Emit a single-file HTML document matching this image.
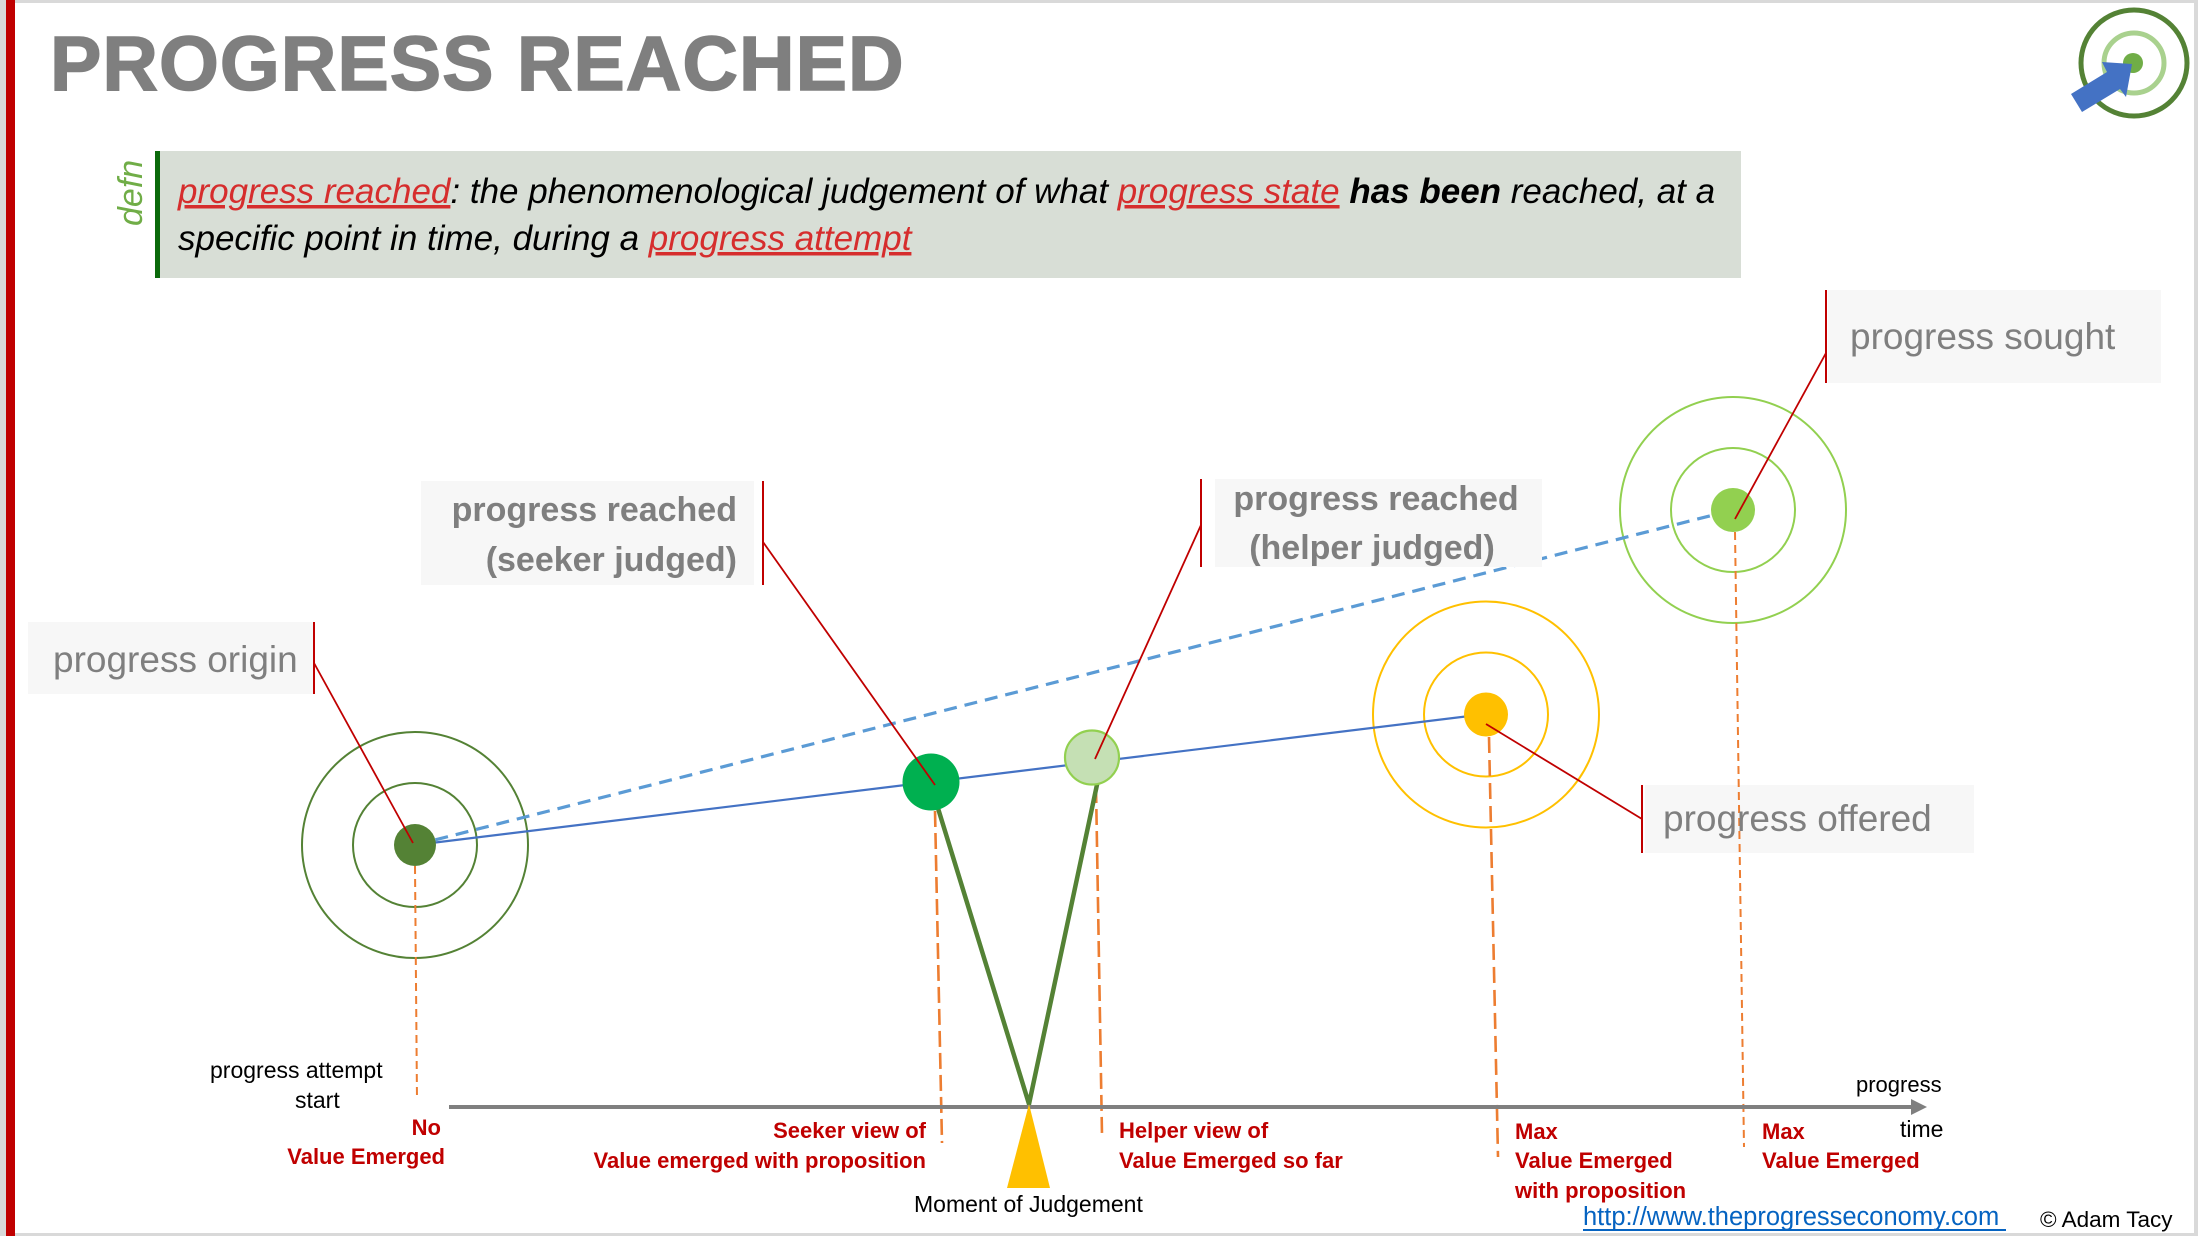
<!DOCTYPE html>
<html>
<head>
<meta charset="utf-8">
<style>
  html,body{margin:0;padding:0;background:#fff;}
  body{width:2198px;height:1236px;overflow:hidden;}
  svg{display:block;}
  text{font-family:"Liberation Sans", sans-serif;}
</style>
</head>
<body>
<svg width="2198" height="1236" viewBox="0 0 2198 1236" xmlns="http://www.w3.org/2000/svg">
  <!-- background & frame -->
  <rect x="0" y="0" width="2198" height="1236" fill="#ffffff"/>
  <rect x="0" y="0" width="2198" height="3" fill="#d9d9d9"/>
  <rect x="0" y="1233" width="2198" height="3" fill="#d9d9d9"/>
  <rect x="0" y="0" width="6" height="1236" fill="#d9d9d9"/>
  <rect x="2194" y="0" width="4" height="1236" fill="#d9d9d9"/>
  <rect x="6" y="0" width="9" height="1236" fill="#c00000"/>

  <!-- title -->
  <text x="50" y="90" font-size="77" font-weight="bold" fill="#7f7f7f" stroke="#7f7f7f" stroke-width="1.5" letter-spacing="1">PROGRESS REACHED</text>

  <!-- logo -->
  <circle cx="2134" cy="63" r="53" fill="none" stroke="#548235" stroke-width="5"/>
  <circle cx="2134" cy="63" r="30" fill="none" stroke="#a9d18e" stroke-width="5"/>
  <circle cx="2133" cy="63" r="10" fill="#70ad47"/>
  <polygon points="2132,64 2102,62 2107,72 2071,94 2082,112 2120,89 2126,97" fill="#4472c4"/>

  <!-- definition box -->
  <rect x="156" y="151" width="1585" height="127" fill="#d8ded6"/>
  <rect x="155" y="151" width="5" height="127" fill="#0b6a0b"/>
  <text transform="translate(142,226) rotate(-90)" font-size="34" font-style="italic" fill="#70ad47">defn</text>
  <text x="178" y="203" font-size="35" font-style="italic" fill="#000"><tspan fill="#d62d2d" text-decoration="underline">progress reached</tspan>: the phenomenological judgement of what <tspan fill="#d62d2d" text-decoration="underline">progress state</tspan> <tspan font-weight="bold">has been</tspan> reached, at a</text>
  <text x="178" y="250" font-size="35" font-style="italic" fill="#000">specific point in time, during a <tspan fill="#d62d2d" text-decoration="underline">progress attempt</tspan></text>

  <!-- target rings -->
  <circle cx="415" cy="845" r="113" fill="none" stroke="#548235" stroke-width="2"/>
  <circle cx="415" cy="845" r="62" fill="none" stroke="#548235" stroke-width="2"/>
  <circle cx="1486" cy="714.5" r="113" fill="none" stroke="#ffc000" stroke-width="2"/>
  <circle cx="1486" cy="714.5" r="62" fill="none" stroke="#ffc000" stroke-width="2"/>
  <circle cx="1733" cy="510" r="113" fill="none" stroke="#92d050" stroke-width="2"/>
  <circle cx="1733" cy="510" r="62" fill="none" stroke="#92d050" stroke-width="2"/>

  <!-- dashed blue line -->
  <line x1="415" y1="845" x2="1733" y2="510" stroke="#5b9bd5" stroke-width="3.2" stroke-dasharray="13 8"/>

  <!-- label boxes -->
  <rect x="28" y="622" width="286" height="72" fill="#f7f7f7"/>
  <rect x="421" y="481" width="333" height="104" fill="#f7f7f7"/>
  <rect x="1215" y="479" width="327" height="88" fill="#f7f7f7"/>
  <rect x="1828" y="290" width="333" height="93" fill="#f7f7f7"/>
  <rect x="1645" y="785" width="329" height="68" fill="#f7f7f7"/>

  <!-- solid blue line -->
  <line x1="415" y1="845" x2="1486" y2="714" stroke="#4472c4" stroke-width="2.2"/>

  <!-- orange dashed verticals -->
  <g stroke="#ed7d31" fill="none">
    <line x1="415" y1="866" x2="417" y2="1100" stroke-width="2" stroke-dasharray="8 5"/>
    <line x1="935" y1="811" x2="942" y2="1143" stroke-width="2.6" stroke-dasharray="16 6"/>
    <line x1="1096" y1="787" x2="1102" y2="1135" stroke-width="2.6" stroke-dasharray="16 6"/>
    <line x1="1489" y1="737" x2="1498" y2="1157" stroke-width="2.6" stroke-dasharray="16 7"/>
    <line x1="1735" y1="532" x2="1744" y2="1147" stroke-width="2" stroke-dasharray="8 5"/>
  </g>

  <!-- green V -->
  <polyline points="937,805 1029,1104 1098,780" fill="none" stroke="#548235" stroke-width="4.5" stroke-linejoin="miter"/>

  <!-- dots / nodes -->
  <circle cx="415" cy="845" r="21" fill="#548235"/>
  <circle cx="1486" cy="714.5" r="22" fill="#ffc000"/>
  <circle cx="1733" cy="510" r="22" fill="#92d050"/>
  <circle cx="931" cy="782" r="28.5" fill="#00b050"/>
  <circle cx="1092" cy="757.5" r="27" fill="#c5e0b4" stroke="#92d050" stroke-width="2.2"/>

  <!-- red connectors & label bars -->
  <g stroke="#c00000" stroke-width="1.8" fill="none">
    <line x1="314" y1="663" x2="413" y2="843"/>
    <line x1="763" y1="542" x2="935" y2="785"/>
    <line x1="1201" y1="525" x2="1095" y2="759"/>
    <line x1="1826" y1="353" x2="1735" y2="519"/>
    <line x1="1642" y1="819" x2="1486" y2="724"/>
  </g>
  <g stroke="#c00000" stroke-width="2" fill="none">
    <line x1="314" y1="622" x2="314" y2="694"/>
    <line x1="763" y1="481" x2="763" y2="585"/>
    <line x1="1201" y1="479" x2="1201" y2="567"/>
    <line x1="1826" y1="290" x2="1826" y2="383"/>
    <line x1="1642" y1="785" x2="1642" y2="853"/>
  </g>

  <!-- label texts -->
  <g fill="#7f7f7f">
    <text x="53" y="672" font-size="37">progress origin</text>
    <text x="737" y="521" font-size="34" font-weight="bold" text-anchor="end">progress reached</text>
    <text x="737" y="571" font-size="34" font-weight="bold" text-anchor="end">(seeker judged)</text>
    <text x="1376" y="510" font-size="34" font-weight="bold" text-anchor="middle">progress reached</text>
    <text x="1372" y="559" font-size="34" font-weight="bold" text-anchor="middle">(helper judged)</text>
    <text x="1850" y="349" font-size="37">progress sought</text>
    <text x="1663" y="831" font-size="37">progress offered</text>
  </g>

  <!-- axis -->
  <line x1="449" y1="1107" x2="1914" y2="1107" stroke="#7f7f7f" stroke-width="4"/>
  <polygon points="1911,1099 1927,1107 1911,1115" fill="#7f7f7f"/>

  <!-- moment of judgement triangle -->
  <polygon points="1029,1104 1007,1188 1050,1188" fill="#ffc000"/>

  <!-- bottom texts -->
  <g font-size="23" fill="#000">
    <text x="210" y="1078">progress attempt</text>
    <text x="295" y="1108">start</text>
    <text x="914" y="1212">Moment of Judgement</text>
    <text x="1856" y="1092" font-size="22">progress</text>
    <text x="1900" y="1137">time</text>
  </g>
  <g font-size="22" font-weight="bold" fill="#c00000">
    <text x="441" y="1135" text-anchor="end">No</text>
    <text x="445" y="1164" text-anchor="end">Value Emerged</text>
    <text x="926" y="1138" text-anchor="end">Seeker view of</text>
    <text x="926" y="1168" text-anchor="end">Value emerged with proposition</text>
    <text x="1119" y="1138">Helper view of</text>
    <text x="1119" y="1168">Value Emerged so far</text>
    <text x="1515" y="1139">Max</text>
    <text x="1515" y="1168">Value Emerged</text>
    <text x="1515" y="1198">with proposition</text>
    <text x="1762" y="1139">Max</text>
    <text x="1762" y="1168">Value Emerged</text>
  </g>

  <!-- footer -->
  <text x="1583" y="1225" font-size="25.5" fill="#0563c1">http://www.theprogresseconomy.com</text>
  <line x1="1583" y1="1230" x2="2006" y2="1230" stroke="#0563c1" stroke-width="2"/>
  <text x="2040" y="1227" font-size="22.5" fill="#000">© Adam Tacy</text>
</svg>
</body>
</html>
